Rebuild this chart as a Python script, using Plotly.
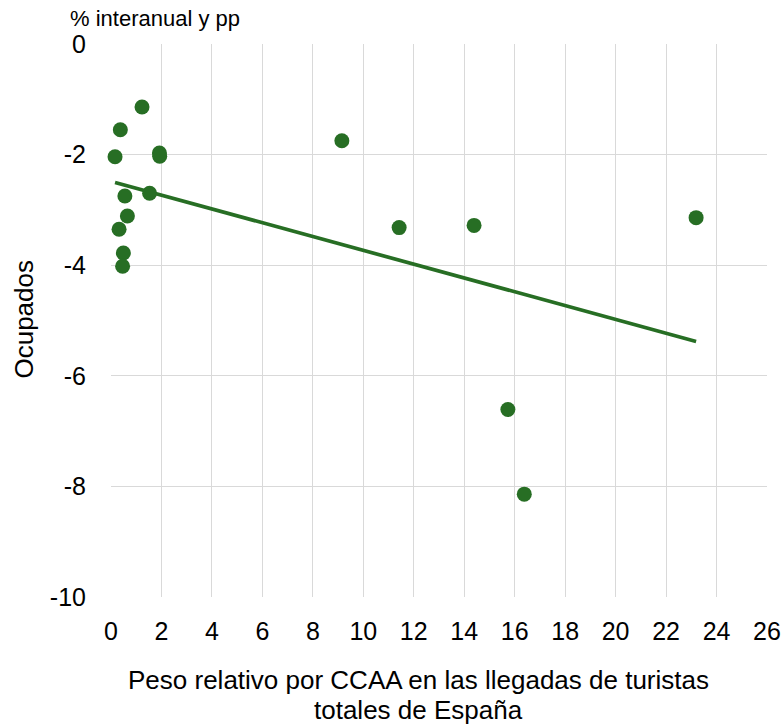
import numpy as np
import plotly.graph_objects as go

peso = [1.23, 0.37, 0.16, 1.92, 1.93, 0.55, 1.53, 0.65, 0.32, 0.49, 0.46,
        9.15, 11.42, 14.39, 23.19, 15.73, 16.38]
ocupados = [-1.14, -1.55, -2.04, -1.97, -2.03, -2.75, -2.70, -3.11, -3.35, -3.78, -4.02,
            -1.75, -3.32, -3.28, -3.14, -6.61, -8.14]
x_ticks = list(range(0, 27, 2))
y_ticks = list(range(-10, 1, 2))
y_ticktext = [str(v) for v in y_ticks]  # plain hyphen minus

green = "#276E24"
font = "Liberation Sans, Arial, Helvetica, sans-serif"

slope, intercept = np.polyfit(peso, ocupados, 1)
xs = np.array([min(peso), max(peso)])
ys = slope * xs + intercept

fig = go.Figure()
fig.add_trace(go.Scatter(x=xs, y=ys, mode="lines", line=dict(color=green, width=3.7),
                         hoverinfo="skip", cliponaxis=False))
fig.add_trace(go.Scatter(x=peso, y=ocupados, mode="markers", cliponaxis=False,
                         marker=dict(color=green, size=15, line=dict(width=0))))

# body margin removed via post_script -> figure fills the full window
W, H = 784, 726
left, right, top, bottom = 110.7, 767, 43.6, 597
L, R, T, B = left, W - right, top, H - bottom
pw, ph = W - L - R, H - T - B


def px(x, y):
    """reference pixel position -> paper coords"""
    return (x - L) / pw, ((H - y) - B) / ph


fig.update_layout(
    width=W, height=H, showlegend=False,
    margin=dict(l=L, r=R, t=T, b=B, pad=0, autoexpand=False),
    paper_bgcolor="white", plot_bgcolor="white",
    font=dict(family=font, color="#000000", size=25),
    xaxis=dict(range=[0, 26], tickvals=x_ticks, showgrid=True, gridcolor="#D9D9D9",
               gridwidth=1, zeroline=False, showline=False, ticks="",
               tickfont=dict(size=25), ticklabelstandoff=17),
    yaxis=dict(range=[-10, 0], tickvals=y_ticks, ticktext=y_ticktext, showgrid=True,
               gridcolor="#D9D9D9", gridwidth=1, zeroline=False, showline=False,
               ticks="", tickfont=dict(size=25), ticklabelstandoff=24),
)

ax, ay = px(68, 18)
tx, ty = px(24, 319)
b1x, b1y = px(418, 680)
b2x, b2y = px(418, 710)
fig.add_annotation(text="% interanual y pp", x=ax, y=ay, xref="paper", yref="paper",
                   showarrow=False, xanchor="left", yanchor="middle",
                   font=dict(size=22))
fig.add_annotation(text="Ocupados", x=tx, y=ty, xref="paper", yref="paper",
                   showarrow=False, textangle=-90, xanchor="center", yanchor="middle",
                   font=dict(size=26))
fig.add_annotation(text="Peso relativo por CCAA en las llegadas de turistas",
                   x=b1x, y=b1y, xref="paper", yref="paper", showarrow=False,
                   xanchor="center", yanchor="middle", font=dict(size=26))
fig.add_annotation(text="totales de España",
                   x=b2x, y=b2y, xref="paper", yref="paper", showarrow=False,
                   xanchor="center", yanchor="middle", font=dict(size=26))

fig.write_html("out.html", config={"displayModeBar": False},
               post_script="document.body.style.margin='0px';document.body.style.padding='0px';")
